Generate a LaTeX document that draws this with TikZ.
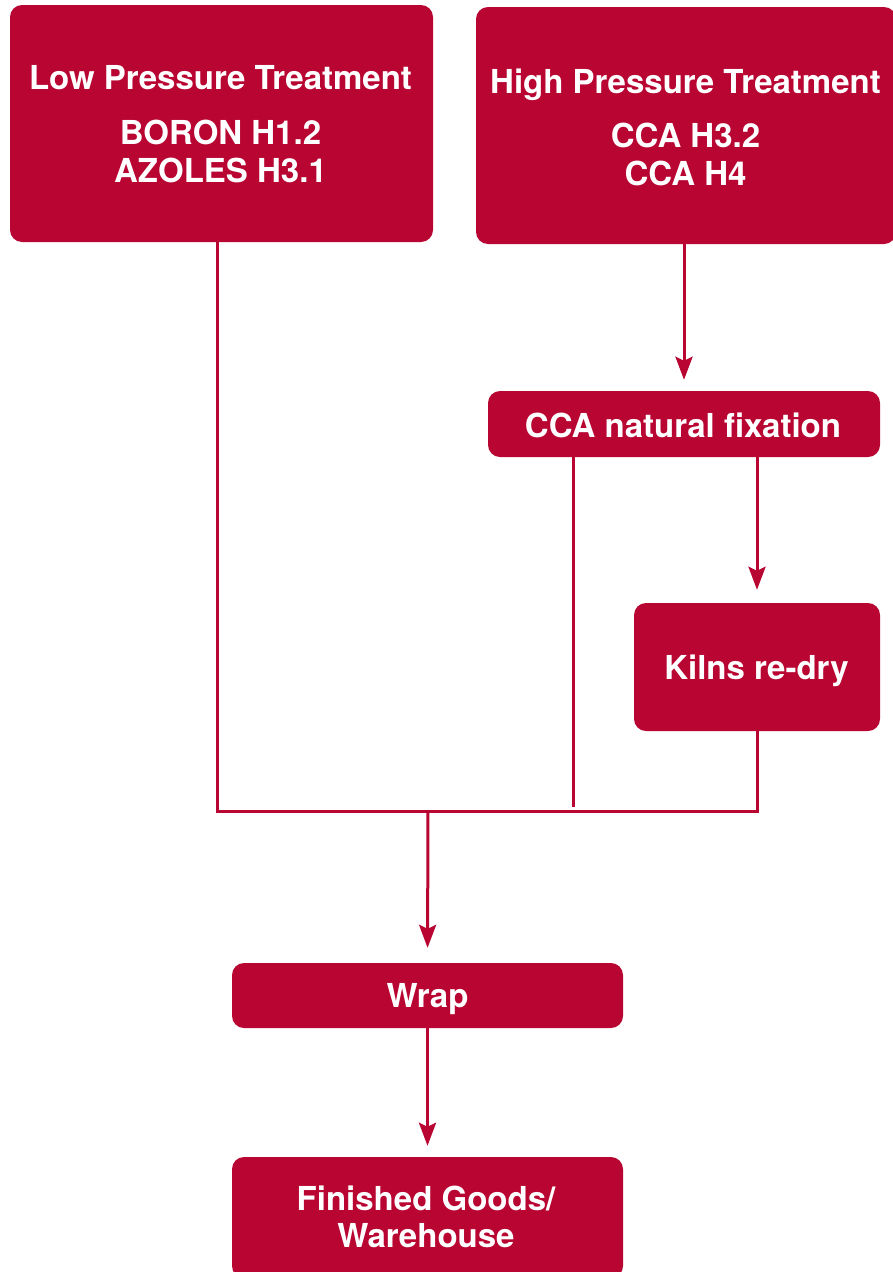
\documentclass[tikz,border=0pt]{standalone}
\usepackage{fontspec}
\setmainfont{TeX Gyre Heros}
\usetikzlibrary{arrows.meta}
\definecolor{brand}{RGB}{184,5,50}
\tikzset{
  box/.style={fill=brand, draw=none, rounded corners=12pt, inner sep=0pt},
  lbl/.style={text=white, anchor=base, inner sep=0pt, font=\fontsize{33}{38}\selectfont\bfseries},
  conn/.style={draw=brand, line width=3pt},
  arr/.style={conn, -{Stealth[length=23pt,width=17pt,inset=4pt]}}
}
\begin{document}
\begin{tikzpicture}[x=1pt,y=-1pt]
\clip (0,0) rectangle (893,1272);
\fill[white] (0,0) rectangle (893,1272);
% boxes
\node[box, minimum width=423pt, minimum height=237pt] (lpt) at (221.5,123.5) {};
\node[box, minimum width=420pt, minimum height=237pt] (hpt) at (686,125.5) {};
\node[box, minimum width=392pt, minimum height=66pt] (ccafix) at (684,424) {};
\node[box, minimum width=246pt, minimum height=128pt] (kilns) at (757,667) {};
\node[box, minimum width=391pt, minimum height=65pt] (wrap) at (427.5,995.5) {};
\node[box, minimum width=391pt, minimum height=121pt] (fin) at (427.5,1217.5) {};
% texts
\node[lbl] (t1) at (220.5,89) {Low Pressure Treatment};
\node[lbl] (t2) at (220.5,144) {BORON H1.2};
\node[lbl] (t3) at (220.5,182) {AZOLES H3.1};
\node[lbl] (t4) at (685.5,93) {High Pressure Treatment};
\node[lbl] (t5) at (685.5,147) {CCA H3.2};
\node[lbl] (t6) at (685.5,185) {CCA H4};
\node[lbl] (t7) at (683,437) {CCA natural fixation};
\node[lbl] (t8) at (756.5,679) {Kilns re-dry};
\node[lbl] (t9) at (427.5,1007) {Wrap};
\node[lbl] (t10) at (426,1210) {Finished Goods/};
\node[lbl] (t11) at (426,1247) {Warehouse};
% junction coordinates
\coordinate (jl) at (217,811);
\coordinate (jr) at (757,811);
\coordinate (jm) at (428,811);
\coordinate (jc) at (573,807);
% connectors
\draw[conn] (lpt.south -| jl) -- (jl) -- (jr) -- (kilns.south);
\draw[conn] (ccafix.south -| jc) -- (jc);
\draw[arr, shorten >=11pt] (ccafix.north |- hpt.south) -- (ccafix.north);
\draw[arr, shorten >=13pt] (ccafix.south -| kilns.north) -- (kilns.north);
\draw[arr, shorten >=15pt] (jm) -- (wrap.north);
\draw[arr, shorten >=11pt] (wrap.south) -- (fin.north);
\end{tikzpicture}
\end{document}
